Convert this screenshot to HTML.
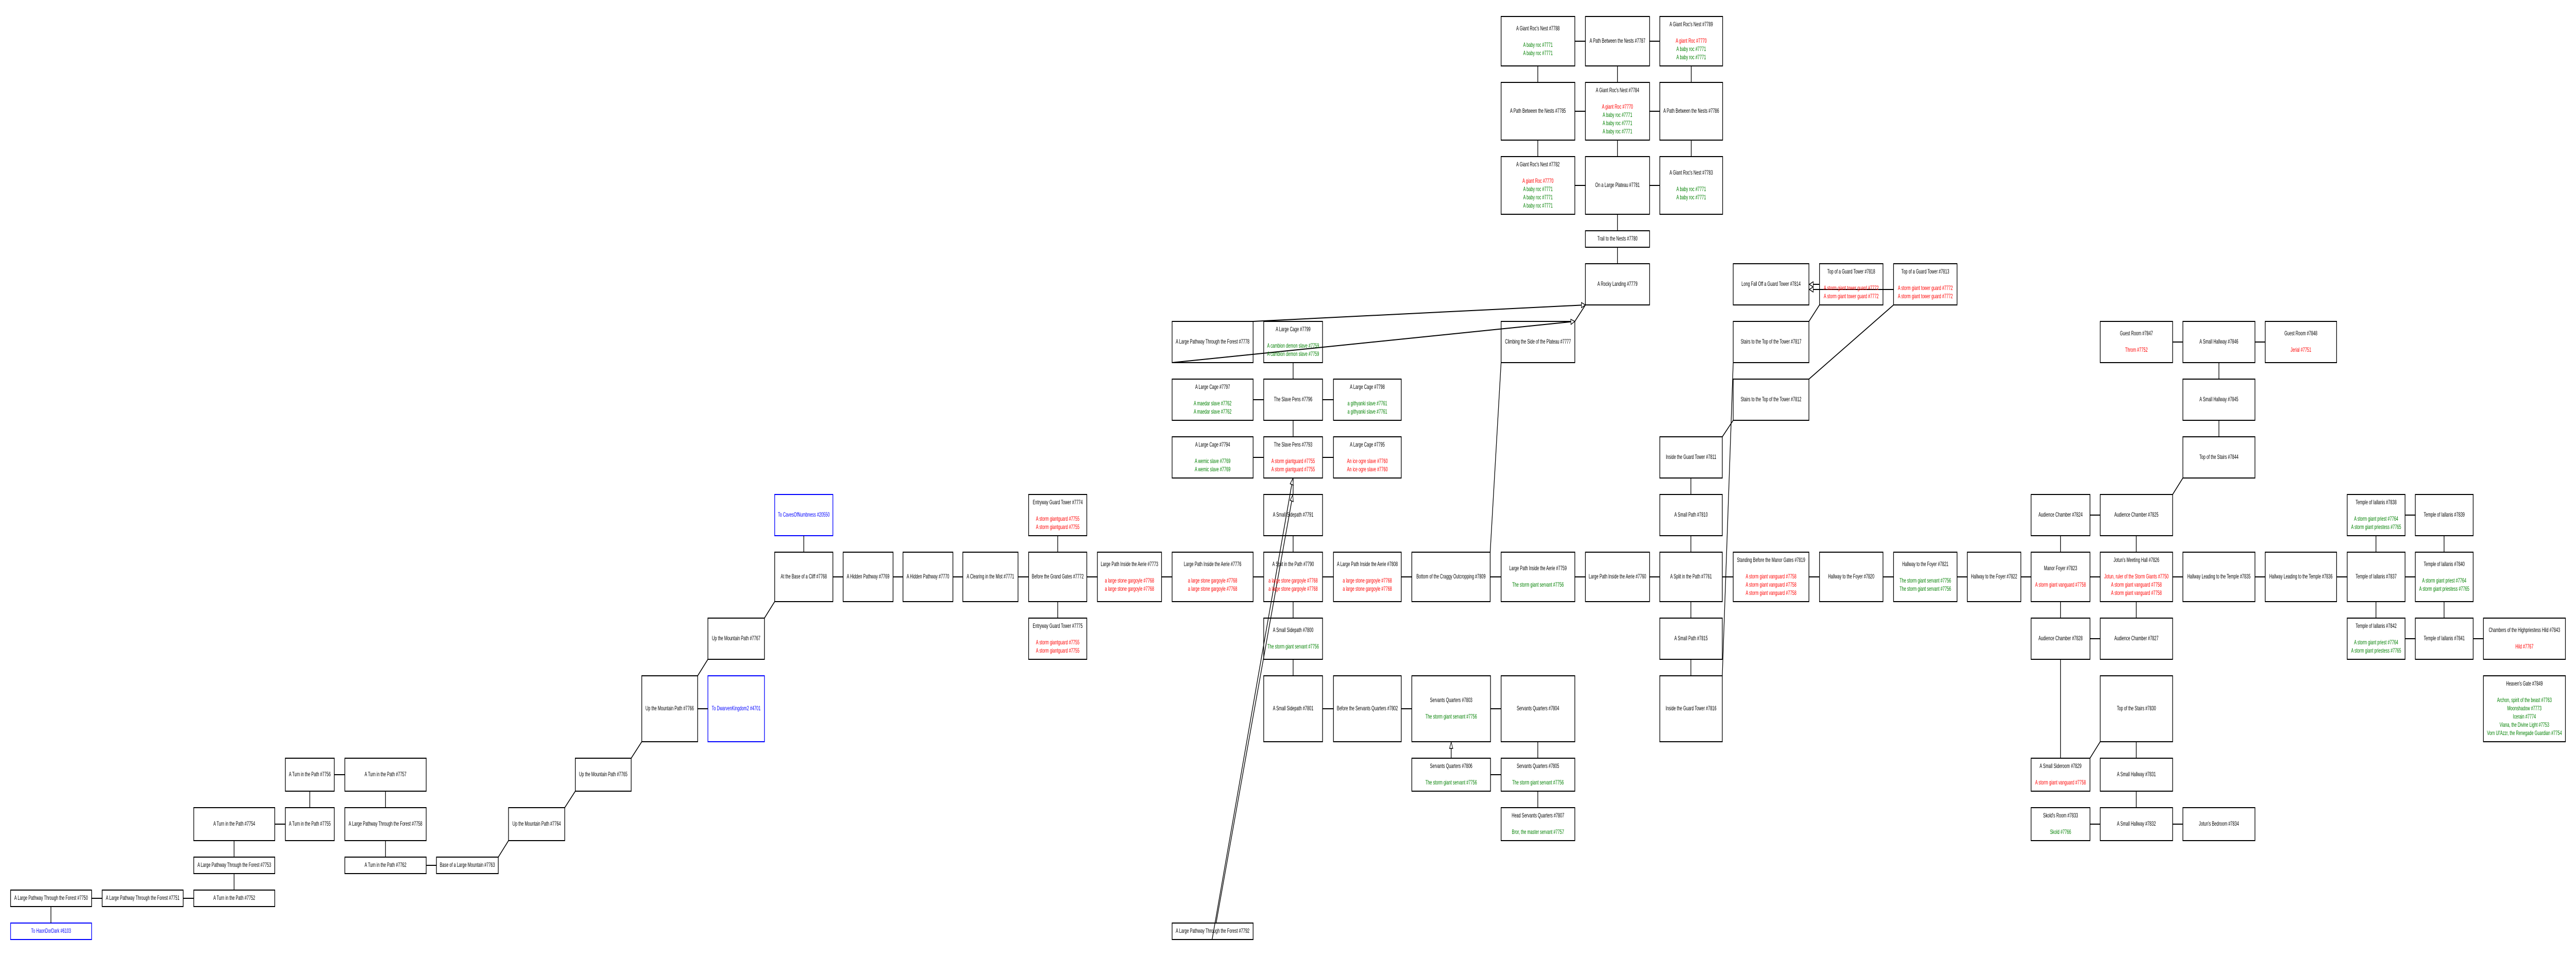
<!DOCTYPE html>
<html><head><meta charset="utf-8">
<style>
html,body{margin:0;padding:0;width:100%;height:100%;overflow:hidden;background:#fff}
svg{display:block;position:absolute;left:0;top:0}
text{font-family:"Liberation Sans",sans-serif;font-size:11.5px;text-anchor:middle;dominant-baseline:central;fill:#000}
.r{fill:#f00}.g{fill:#008000}.u{fill:#00f}
.bx rect{fill:#fff;stroke:#000;stroke-width:2}
.bx rect.x{stroke:#00f}
</style></head><body>
<svg width="100%" height="100%" viewBox="0 0 7791 1856" preserveAspectRatio="none">
<defs><marker id="a" markerUnits="userSpaceOnUse" markerWidth="16" markerHeight="16" refX="13" refY="6" orient="auto"><path d="M1,1 L13,6 L1,11 Z" fill="#fff" stroke="#000" stroke-width="1.5"/></marker></defs>
<rect x="0" y="0" width="7791" height="1856" fill="#fff"/>
<g class="bx">
<rect x="32" y="1728" width="245" height="32"/>
<rect class="x" x="32" y="1792" width="245" height="32"/>
<rect x="309" y="1728" width="245" height="32"/>
<rect x="586" y="1728" width="245" height="32"/>
<rect x="586" y="1664" width="245" height="32"/>
<rect x="586" y="1568" width="245" height="64"/>
<rect x="863" y="1568" width="148" height="64"/>
<rect x="863" y="1472" width="148" height="64"/>
<rect x="1043" y="1472" width="246" height="64"/>
<rect x="1043" y="1568" width="246" height="64"/>
<rect x="1043" y="1664" width="246" height="32"/>
<rect x="1320" y="1664" width="187" height="32"/>
<rect x="1538" y="1568" width="170" height="64"/>
<rect x="1740" y="1472" width="169" height="64"/>
<rect x="1941" y="1312" width="169" height="128"/>
<rect class="x" x="2141" y="1312" width="171" height="128"/>
<rect x="2141" y="1200" width="171" height="80"/>
<rect x="2343" y="1072" width="176" height="96"/>
<rect class="x" x="2343" y="960" width="176" height="80"/>
<rect x="2550" y="1072" width="151" height="96"/>
<rect x="2731" y="1072" width="151" height="96"/>
<rect x="2912" y="1072" width="167" height="96"/>
<rect x="3111" y="1072" width="176" height="96"/>
<rect x="3111" y="960" width="176" height="80"/>
<rect x="3111" y="1200" width="176" height="80"/>
<rect x="3319" y="1072" width="194" height="96"/>
<rect x="3545" y="1072" width="245" height="96"/>
<rect x="3822" y="1072" width="178" height="96"/>
<rect x="4033" y="1072" width="205" height="96"/>
<rect x="4270" y="1072" width="237" height="96"/>
<rect x="4540" y="1072" width="223" height="96"/>
<rect x="4795" y="1072" width="194" height="96"/>
<rect x="5020" y="1072" width="189" height="96"/>
<rect x="5242" y="1072" width="229" height="96"/>
<rect x="5503" y="1072" width="192" height="96"/>
<rect x="5727" y="1072" width="192" height="96"/>
<rect x="5950" y="1072" width="162" height="96"/>
<rect x="6143" y="1072" width="178" height="96"/>
<rect x="6352" y="1072" width="219" height="96"/>
<rect x="6602" y="1072" width="218" height="96"/>
<rect x="6851" y="1072" width="216" height="96"/>
<rect x="7099" y="1072" width="175" height="96"/>
<rect x="7305" y="1072" width="175" height="96"/>
<rect x="7099" y="960" width="175" height="80"/>
<rect x="7305" y="960" width="175" height="80"/>
<rect x="7099" y="1200" width="175" height="80"/>
<rect x="7305" y="1200" width="175" height="80"/>
<rect x="7511" y="1200" width="248" height="80"/>
<rect x="7511" y="1312" width="248" height="128"/>
<rect x="6143" y="960" width="178" height="80"/>
<rect x="6352" y="960" width="219" height="80"/>
<rect x="6143" y="1200" width="178" height="80"/>
<rect x="6352" y="1200" width="219" height="80"/>
<rect x="6352" y="1312" width="219" height="128"/>
<rect x="6143" y="1472" width="178" height="64"/>
<rect x="6352" y="1472" width="219" height="64"/>
<rect x="6143" y="1568" width="178" height="64"/>
<rect x="6352" y="1568" width="219" height="64"/>
<rect x="6602" y="1568" width="218" height="64"/>
<rect x="6352" y="624" width="219" height="80"/>
<rect x="6602" y="624" width="218" height="80"/>
<rect x="6851" y="624" width="216" height="80"/>
<rect x="6602" y="736" width="218" height="80"/>
<rect x="6602" y="848" width="218" height="80"/>
<rect x="5020" y="960" width="189" height="80"/>
<rect x="5020" y="848" width="189" height="80"/>
<rect x="5020" y="1200" width="189" height="80"/>
<rect x="5020" y="1312" width="189" height="128"/>
<rect x="5242" y="736" width="229" height="80"/>
<rect x="5242" y="624" width="229" height="80"/>
<rect x="5242" y="512" width="229" height="80"/>
<rect x="5503" y="512" width="192" height="80"/>
<rect x="5727" y="512" width="192" height="80"/>
<rect x="4540" y="32" width="223" height="96"/>
<rect x="4795" y="32" width="194" height="96"/>
<rect x="5020" y="32" width="190" height="96"/>
<rect x="4540" y="160" width="223" height="112"/>
<rect x="4795" y="160" width="194" height="112"/>
<rect x="5020" y="160" width="190" height="112"/>
<rect x="4540" y="304" width="223" height="112"/>
<rect x="4795" y="304" width="194" height="112"/>
<rect x="5020" y="304" width="190" height="112"/>
<rect x="4795" y="448" width="194" height="32"/>
<rect x="4795" y="512" width="194" height="80"/>
<rect x="4540" y="624" width="223" height="80"/>
<rect x="3545" y="624" width="245" height="80"/>
<rect x="3822" y="624" width="178" height="80"/>
<rect x="3545" y="736" width="245" height="80"/>
<rect x="3822" y="736" width="178" height="80"/>
<rect x="4033" y="736" width="205" height="80"/>
<rect x="3545" y="848" width="245" height="80"/>
<rect x="3822" y="848" width="178" height="80"/>
<rect x="4033" y="848" width="205" height="80"/>
<rect x="3822" y="960" width="178" height="80"/>
<rect x="3822" y="1200" width="178" height="80"/>
<rect x="3822" y="1312" width="178" height="128"/>
<rect x="4033" y="1312" width="205" height="128"/>
<rect x="4270" y="1312" width="238" height="128"/>
<rect x="4540" y="1312" width="223" height="128"/>
<rect x="4270" y="1472" width="238" height="64"/>
<rect x="4540" y="1472" width="223" height="64"/>
<rect x="4540" y="1568" width="223" height="64"/>
<rect x="3545" y="1792" width="245" height="32"/>
</g>
<g stroke="#000" stroke-width="2" fill="none">
<path d="M277,1744H309M554,1744H586M1011,1504H1043M831,1600H863M1289,1680H1320M2110,1376H2141M2519,1120H2550M2701,1120H2731M2882,1120H2912M3079,1120H3111M3287,1120H3319M3513,1120H3545M3790,1120H3822M4000,1120H4033M4238,1120H4270M4507,1120H4540M4763,1120H4795M4989,1120H5020M5209,1120H5242M5471,1120H5503M5695,1120H5727M5919,1120H5950M6112,1120H6143M6321,1120H6352M6571,1120H6602M6820,1120H6851M7067,1120H7099M7274,1120H7305M7274,1000H7305M7274,1240H7305M7480,1240H7511M6321,1000H6352M6321,1240H6352M6321,1600H6352M6571,1600H6602M6571,664H6602M6820,664H6851M3790,776H3822M4000,776H4033M3790,888H3822M4000,888H4033M4000,1376H4033M4238,1376H4270M4508,1376H4540M4508,1504H4540M4763,80H4795M4989,80H5020M4763,216H4795M4989,216H5020M4763,360H4795M4989,360H5020"/>
<path d="M154,1760V1792M708,1696V1728M708,1632V1664M937,1536V1568M1166,1536V1568M1166,1632V1664M2431,1040V1072M3199,1040V1072M3199,1168V1200M3911,704V736M3911,816V848M3911,928V960M3911,1040V1072M3911,1168V1200M3911,1280V1312M4651,1440V1472M4651,1536V1568M4651,128V160M4651,272V304M4892,128V160M4892,272V304M5115,128V160M5115,272V304M4892,416V448M4892,480V512M5114,928V960M5114,1040V1072M5114,1168V1200M5114,1280V1312M6232,1040V1072M6232,1168V1200M6232,1280V1472M6461,1040V1072M6461,1168V1200M6461,1440V1472M6461,1536V1568M6711,704V736M6711,816V848M7186,1040V1072M7186,1168V1200M7392,1040V1072M7392,1168V1200"/>
<path d="M1507,1664L1538,1632M1708,1568L1740,1536M1909,1472L1941,1440M2110,1312L2141,1280M2312,1200L2343,1168M4507,1072L4540,704M4763,624L4795,592M5209,848L5242,816M5209,1312L5242,704M5471,624L5503,592M5471,736L5727,592M6571,960L6602,928M6352,1440L6321,1472"/>
<line x1="3790" y1="624" x2="4795" y2="592" marker-end="url(#a)"/>
<line x1="3545" y1="704" x2="4763" y2="624" marker-end="url(#a)"/>
<line x1="3666" y1="1824" x2="3910" y2="929" marker-end="url(#a)"/>
<line x1="3678" y1="1792" x2="3910" y2="961" marker-end="url(#a)"/>
<line x1="5503" y1="552" x2="5472" y2="552" marker-end="url(#a)"/>
<line x1="5727" y1="562" x2="5472" y2="562" marker-end="url(#a)"/>
<line x1="4389" y1="1472" x2="4389" y2="1441" marker-end="url(#a)"/>
</g>
<g>
<text x="154.5" y="1744">A Large Pathway Through the Forest #7750</text>
<text class="u" x="154.5" y="1808">To HaonDorDark #6103</text>
<text x="431.5" y="1744">A Large Pathway Through the Forest #7751</text>
<text x="708.5" y="1744">A Turn in the Path #7752</text>
<text x="708.5" y="1680">A Large Pathway Through the Forest #7753</text>
<text x="708.5" y="1600">A Turn in the Path #7754</text>
<text x="937" y="1600">A Turn in the Path #7755</text>
<text x="937" y="1504">A Turn in the Path #7756</text>
<text x="1166" y="1504">A Turn in the Path #7757</text>
<text x="1166" y="1600">A Large Pathway Through the Forest #7758</text>
<text x="1166" y="1680">A Turn in the Path #7762</text>
<text x="1413.5" y="1680">Base of a Large Mountain #7763</text>
<text x="1623" y="1600">Up the Mountain Path #7764</text>
<text x="1824.5" y="1504">Up the Mountain Path #7765</text>
<text x="2025.5" y="1376">Up the Mountain Path #7766</text>
<text class="u" x="2226.5" y="1376">To DwarvenKingdom2 #4701</text>
<text x="2226.5" y="1240">Up the Mountain Path #7767</text>
<text x="2431" y="1120">At the Base of a Cliff #7768</text>
<text class="u" x="2431" y="1000">To CavesOfNumbness #20550</text>
<text x="2625.5" y="1120">A Hidden Pathway #7769</text>
<text x="2806.5" y="1120">A Hidden Pathway #7770</text>
<text x="2995.5" y="1120">A Clearing in the Mist #7771</text>
<text x="3199" y="1120">Before the Grand Gates #7772</text>
<text x="3199" y="976">Entryway Guard Tower #7774</text>
<text class="r" x="3199" y="1008">A storm giantguard #7755</text>
<text class="r" x="3199" y="1024">A storm giantguard #7755</text>
<text x="3199" y="1216">Entryway Guard Tower #7775</text>
<text class="r" x="3199" y="1248">A storm giantguard #7755</text>
<text class="r" x="3199" y="1264">A storm giantguard #7755</text>
<text x="3416" y="1096">Large Path Inside the Aerie #7773</text>
<text class="r" x="3416" y="1128">a large stone gargoyle #7768</text>
<text class="r" x="3416" y="1144">a large stone gargoyle #7768</text>
<text x="3667.5" y="1096">Large Path Inside the Aerie #7776</text>
<text class="r" x="3667.5" y="1128">a large stone gargoyle #7768</text>
<text class="r" x="3667.5" y="1144">a large stone gargoyle #7768</text>
<text x="3911" y="1096">A Split in the Path #7790</text>
<text class="r" x="3911" y="1128">a large stone gargoyle #7768</text>
<text class="r" x="3911" y="1144">a large stone gargoyle #7768</text>
<text x="4135.5" y="1096">A Large Path Inside the Aerie #7808</text>
<text class="r" x="4135.5" y="1128">a large stone gargoyle #7768</text>
<text class="r" x="4135.5" y="1144">a large stone gargoyle #7768</text>
<text x="4388.5" y="1120">Bottom of the Craggy Outcropping #7809</text>
<text x="4651.5" y="1104">Large Path Inside the Aerie #7759</text>
<text class="g" x="4651.5" y="1136">The storm giant servant #7756</text>
<text x="4892" y="1120">Large Path Inside the Aerie #7760</text>
<text x="5114.5" y="1120">A Split in the Path #7761</text>
<text x="5356.5" y="1088">Standing Before the Manor Gates #7819</text>
<text class="r" x="5356.5" y="1120">A storm giant vanguard #7758</text>
<text class="r" x="5356.5" y="1136">A storm giant vanguard #7758</text>
<text class="r" x="5356.5" y="1152">A storm giant vanguard #7758</text>
<text x="5599" y="1120">Hallway to the Foyer #7820</text>
<text x="5823" y="1096">Hallway to the Foyer #7821</text>
<text class="g" x="5823" y="1128">The storm giant servant #7756</text>
<text class="g" x="5823" y="1144">The storm giant servant #7756</text>
<text x="6031" y="1120">Hallway to the Foyer #7822</text>
<text x="6232" y="1104">Manor Foyer #7823</text>
<text class="r" x="6232" y="1136">A storm giant vanguard #7758</text>
<text x="6461.5" y="1088">Jotun's Meeting Hall #7826</text>
<text class="r" x="6461.5" y="1120">Jotun, ruler of the Storm Giants #7750</text>
<text class="r" x="6461.5" y="1136">A storm giant vanguard #7758</text>
<text class="r" x="6461.5" y="1152">A storm giant vanguard #7758</text>
<text x="6711" y="1120">Hallway Leading to the Temple #7835</text>
<text x="6959" y="1120">Hallway Leading to the Temple #7836</text>
<text x="7186.5" y="1120">Temple of Iallanis #7837</text>
<text x="7392.5" y="1096">Temple of Iallanis #7840</text>
<text class="g" x="7392.5" y="1128">A storm giant priest #7764</text>
<text class="g" x="7392.5" y="1144">A storm giant priestess #7765</text>
<text x="7186.5" y="976">Temple of Iallanis #7838</text>
<text class="g" x="7186.5" y="1008">A storm giant priest #7764</text>
<text class="g" x="7186.5" y="1024">A storm giant priestess #7765</text>
<text x="7392.5" y="1000">Temple of Iallanis #7839</text>
<text x="7186.5" y="1216">Temple of Iallanis #7842</text>
<text class="g" x="7186.5" y="1248">A storm giant priest #7764</text>
<text class="g" x="7186.5" y="1264">A storm giant priestess #7765</text>
<text x="7392.5" y="1240">Temple of Iallanis #7841</text>
<text x="7635" y="1224">Chambers of the Highpriestess Hild #7843</text>
<text class="r" x="7635" y="1256">Hild #7767</text>
<text x="7635" y="1328">Heaven's Gate #7849</text>
<text class="g" x="7635" y="1360">Archon, spirit of the beast #7763</text>
<text class="g" x="7635" y="1376">Moonshadow #7773</text>
<text class="g" x="7635" y="1392">Icerain #7774</text>
<text class="g" x="7635" y="1408">Viana, the Divine Light #7753</text>
<text class="g" x="7635" y="1424">Vorn Ul'Azzr, the Renegade Guardian #7754</text>
<text x="6232" y="1000">Audience Chamber #7824</text>
<text x="6461.5" y="1000">Audience Chamber #7825</text>
<text x="6232" y="1240">Audience Chamber #7828</text>
<text x="6461.5" y="1240">Audience Chamber #7827</text>
<text x="6461.5" y="1376">Top of the Stairs #7830</text>
<text x="6232" y="1488">A Small Sideroom #7829</text>
<text class="r" x="6232" y="1520">A storm giant vanguard #7758</text>
<text x="6461.5" y="1504">A Small Hallway #7831</text>
<text x="6232" y="1584">Skold's Room #7833</text>
<text class="g" x="6232" y="1616">Skold #7766</text>
<text x="6461.5" y="1600">A Small Hallway #7832</text>
<text x="6711" y="1600">Jotun's Bedroom #7834</text>
<text x="6461.5" y="648">Guest Room #7847</text>
<text class="r" x="6461.5" y="680">Throm #7752</text>
<text x="6711" y="664">A Small Hallway #7846</text>
<text x="6959" y="648">Guest Room #7848</text>
<text class="r" x="6959" y="680">Jerial #7751</text>
<text x="6711" y="776">A Small Hallway #7845</text>
<text x="6711" y="888">Top of the Stairs #7844</text>
<text x="5114.5" y="1000">A Small Path #7810</text>
<text x="5114.5" y="888">Inside the Guard Tower #7811</text>
<text x="5114.5" y="1240">A Small Path #7815</text>
<text x="5114.5" y="1376">Inside the Guard Tower #7816</text>
<text x="5356.5" y="776">Stairs to the Top of the Tower #7812</text>
<text x="5356.5" y="664">Stairs to the Top of the Tower #7817</text>
<text x="5356.5" y="552">Long Fall Off a Guard Tower #7814</text>
<text x="5599" y="528">Top of a Guard Tower #7818</text>
<text class="r" x="5599" y="560">A storm giant tower guard #7772</text>
<text class="r" x="5599" y="576">A storm giant tower guard #7772</text>
<text x="5823" y="528">Top of a Guard Tower #7813</text>
<text class="r" x="5823" y="560">A storm giant tower guard #7772</text>
<text class="r" x="5823" y="576">A storm giant tower guard #7772</text>
<text x="4651.5" y="56">A Giant Roc's Nest #7788</text>
<text class="g" x="4651.5" y="88">A baby roc #7771</text>
<text class="g" x="4651.5" y="104">A baby roc #7771</text>
<text x="4892" y="80">A Path Between the Nests #7787</text>
<text x="5115" y="48">A Giant Roc's Nest #7789</text>
<text class="r" x="5115" y="80">A giant Roc #7770</text>
<text class="g" x="5115" y="96">A baby roc #7771</text>
<text class="g" x="5115" y="112">A baby roc #7771</text>
<text x="4651.5" y="216">A Path Between the Nests #7785</text>
<text x="4892" y="176">A Giant Roc's Nest #7784</text>
<text class="r" x="4892" y="208">A giant Roc #7770</text>
<text class="g" x="4892" y="224">A baby roc #7771</text>
<text class="g" x="4892" y="240">A baby roc #7771</text>
<text class="g" x="4892" y="256">A baby roc #7771</text>
<text x="5115" y="216">A Path Between the Nests #7786</text>
<text x="4651.5" y="320">A Giant Roc's Nest #7782</text>
<text class="r" x="4651.5" y="352">A giant Roc #7770</text>
<text class="g" x="4651.5" y="368">A baby roc #7771</text>
<text class="g" x="4651.5" y="384">A baby roc #7771</text>
<text class="g" x="4651.5" y="400">A baby roc #7771</text>
<text x="4892" y="360">On a Large Plateau #7781</text>
<text x="5115" y="336">A Giant Roc's Nest #7783</text>
<text class="g" x="5115" y="368">A baby roc #7771</text>
<text class="g" x="5115" y="384">A baby roc #7771</text>
<text x="4892" y="464">Trail to the Nests #7780</text>
<text x="4892" y="552">A Rocky Landing #7779</text>
<text x="4651.5" y="664">Climbing the Side of the Plateau #7777</text>
<text x="3667.5" y="664">A Large Pathway Through the Forest #7778</text>
<text x="3911" y="640">A Large Cage #7799</text>
<text class="g" x="3911" y="672">A cambion demon slave #7759</text>
<text class="g" x="3911" y="688">A cambion demon slave #7759</text>
<text x="3667.5" y="752">A Large Cage #7797</text>
<text class="g" x="3667.5" y="784">A maedar slave #7762</text>
<text class="g" x="3667.5" y="800">A maedar slave #7762</text>
<text x="3911" y="776">The Slave Pens #7796</text>
<text x="4135.5" y="752">A Large Cage #7798</text>
<text class="g" x="4135.5" y="784">a githyanki slave #7761</text>
<text class="g" x="4135.5" y="800">a githyanki slave #7761</text>
<text x="3667.5" y="864">A Large Cage #7794</text>
<text class="g" x="3667.5" y="896">A wemic slave #7769</text>
<text class="g" x="3667.5" y="912">A wemic slave #7769</text>
<text x="3911" y="864">The Slave Pens #7793</text>
<text class="r" x="3911" y="896">A storm giantguard #7755</text>
<text class="r" x="3911" y="912">A storm giantguard #7755</text>
<text x="4135.5" y="864">A Large Cage #7795</text>
<text class="r" x="4135.5" y="896">An ice ogre slave #7760</text>
<text class="r" x="4135.5" y="912">An ice ogre slave #7760</text>
<text x="3911" y="1000">A Small Sidepath #7791</text>
<text x="3911" y="1224">A Small Sidepath #7800</text>
<text class="g" x="3911" y="1256">The storm giant servant #7756</text>
<text x="3911" y="1376">A Small Sidepath #7801</text>
<text x="4135.5" y="1376">Before the Servants Quarters #7802</text>
<text x="4389" y="1360">Servants Quarters #7803</text>
<text class="g" x="4389" y="1392">The storm giant servant #7756</text>
<text x="4651.5" y="1376">Servants Quarters #7804</text>
<text x="4389" y="1488">Servants Quarters #7806</text>
<text class="g" x="4389" y="1520">The storm giant servant #7756</text>
<text x="4651.5" y="1488">Servants Quarters #7805</text>
<text class="g" x="4651.5" y="1520">The storm giant servant #7756</text>
<text x="4651.5" y="1584">Head Servants Quarters #7807</text>
<text class="g" x="4651.5" y="1616">Bror, the master servant #7757</text>
<text x="3667.5" y="1808">A Large Pathway Through the Forest #7792</text>
</g>
</svg>
</body></html>
